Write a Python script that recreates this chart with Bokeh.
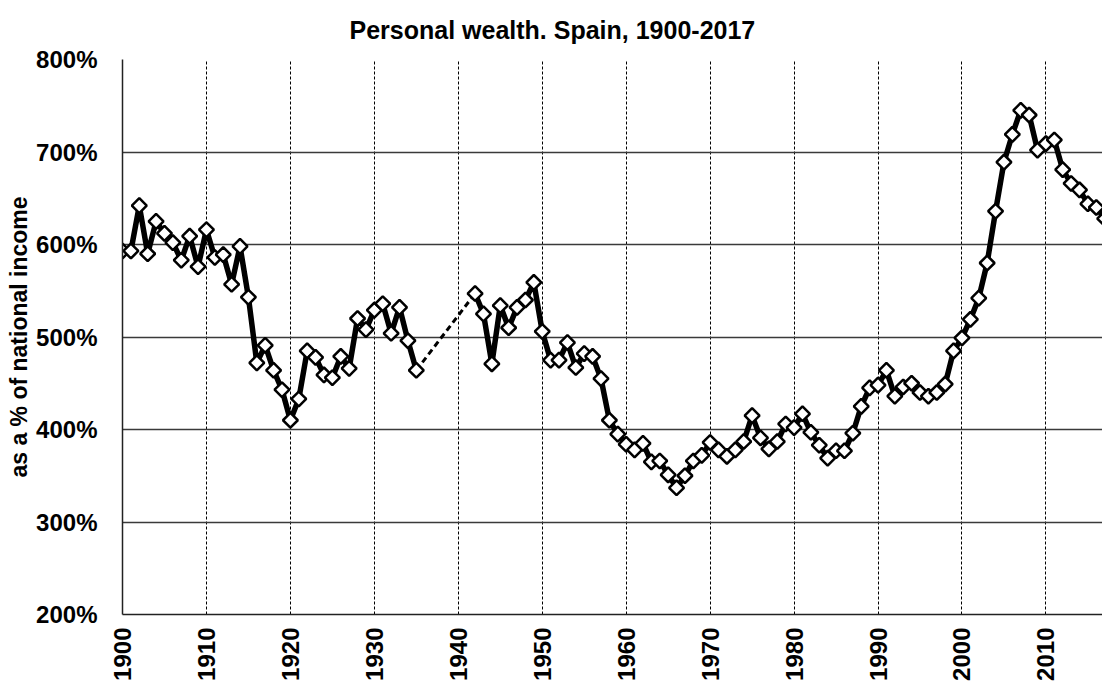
import math
import numpy as np
from bokeh.plotting import figure
from bokeh.models import Range1d, SingleIntervalTicker, PrintfTickFormatter, ColumnDataSource, Title
from bokeh.embed import file_html
from bokeh.resources import INLINE

NaN = float("nan")

years = list(range(1900, 2018))
wealth = [
    593, 593, 642, 590, 625, 612, 602, 583, 609, 576,   # 1900-1909
    616, 586, 589, 557, 598, 543, 472, 491, 464, 443,   # 1910-1919
    410, 433, 485, 478, 459, 456, 479, 466, 520, 508,   # 1920-1929
    529, 536, 504, 532, 496, 464, NaN, NaN, NaN, NaN,   # 1930-1939
    NaN, NaN, 547, 525, 471, 534, 510, 532, 540, 559,   # 1940-1949
    506, 475, 475, 494, 467, 482, 479, 455, 410, 395,   # 1950-1959
    384, 378, 385, 365, 366, 351, 337, 350, 366, 372,   # 1960-1969
    386, 378, 371, 378, 387, 415, 391, 379, 387, 406,   # 1970-1979
    402, 417, 397, 383, 369, 377, 377, 396, 425, 445,   # 1980-1989
    448, 464, 436, 446, 450, 440, 436, 440, 449, 485,   # 1990-1999
    499, 519, 542, 580, 636, 689, 719, 745, 740, 702,   # 2000-2009
    709, 713, 681, 666, 659, 644, 640, 628,             # 2010-2017
]
gap_years = [1935, 1942]

title_text = "Personal wealth. Spain, 1900-2017"
y_label = "as a % of national income"

src = ColumnDataSource(data=dict(x=years, y=wealth))
gap_vals = [wealth[years.index(g)] for g in gap_years]
gap_src = ColumnDataSource(data=dict(x=gap_years, y=gap_vals))

FONT = "Liberation Sans"

p = figure(width=1102, height=686, output_backend="svg", toolbar_location=None,
           x_range=Range1d(1900, 2016.74), y_range=Range1d(200, 800),
           min_border_left=122, min_border_right=0, min_border_top=59, min_border_bottom=72)
p.title = None
t = Title(text=title_text, align="left", offset=227, text_font=FONT, vertical_align="top",
          text_font_size="25px", text_font_style="bold", text_color="black", standoff=28)
p.add_layout(t, "above")

p.outline_line_color = None
p.background_fill_color = "white"
p.border_fill_color = "white"

# grids
p.xgrid.ticker = SingleIntervalTicker(interval=10)
p.ygrid.ticker = SingleIntervalTicker(interval=100)
p.xgrid.grid_line_color = "black"
p.xgrid.grid_line_width = 1
p.xgrid.grid_line_dash = "3 2"
p.ygrid.grid_line_color = "#3a3a3a"
p.ygrid.grid_line_width = 1.5

# axes
p.xaxis.ticker = SingleIntervalTicker(interval=10)
p.yaxis.ticker = SingleIntervalTicker(interval=100)
p.yaxis.formatter = PrintfTickFormatter(format="%d%%")
for ax in (p.xaxis[0], p.yaxis[0]):
    ax.major_tick_in = 0
    ax.major_tick_out = 0
    ax.minor_tick_in = 0
    ax.minor_tick_out = 0
    ax.axis_line_color = "#222222"
    ax.axis_line_width = 1.5
    ax.major_label_text_font = FONT
    ax.major_label_text_font_style = "bold"
    ax.major_label_text_color = "black"
p.yaxis.major_label_text_font_size = "24px"
p.xaxis.major_label_text_font_size = "24px"
p.xaxis.major_label_orientation = math.pi / 2
p.xaxis.major_label_standoff = 13
p.yaxis.major_label_standoff = 25
p.yaxis.axis_label = y_label
p.yaxis.axis_label_text_font = FONT
p.yaxis.axis_label_text_font_style = "bold"
p.yaxis.axis_label_text_font_size = "23px"
p.yaxis.axis_label_text_color = "black"
p.yaxis.axis_label_standoff = 1

# data
p.line("x", "y", source=gap_src, line_color="black", line_width=3, line_dash="6 4")
p.line("x", "y", source=src, line_color="black", line_width=5.5, line_join="round")
p.scatter("x", "y", source=src, marker="square", angle=math.pi / 4, size=10.5,
          fill_color="white", line_color="black", line_width=2.5)

open("out.html", "w").write(file_html(p, INLINE))
